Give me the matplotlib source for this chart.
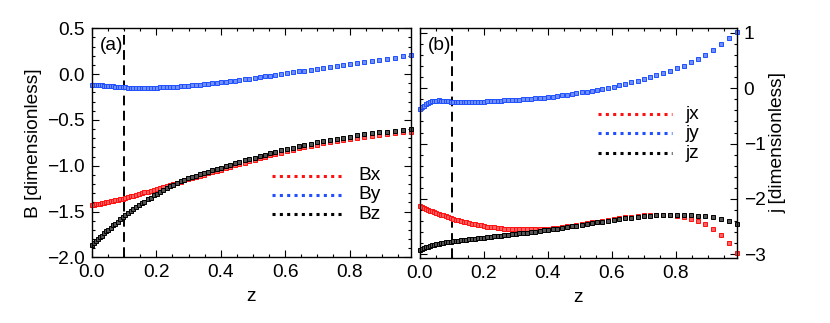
import matplotlib
matplotlib.use("Agg")
import matplotlib.pyplot as plt
from matplotlib.ticker import MultipleLocator

plt.rcParams['font.family'] = ['Liberation Sans', 'DejaVu Sans']

# height grid (stretched, denser near the base)
z = [0.000, 0.006, 0.012, 0.018, 0.025, 0.031, 0.038, 0.045, 0.051, 0.058,
     0.066, 0.073, 0.080, 0.088, 0.096, 0.104, 0.112, 0.120, 0.128, 0.137,
     0.145, 0.154, 0.163, 0.173, 0.182, 0.192, 0.201, 0.211, 0.222, 0.232,
     0.243, 0.253, 0.264, 0.276, 0.287, 0.299, 0.311, 0.323, 0.335, 0.348,
     0.361, 0.374, 0.387, 0.401, 0.415, 0.429, 0.444, 0.458, 0.474, 0.489,
     0.505, 0.521, 0.537, 0.554, 0.570, 0.588, 0.605, 0.623, 0.642, 0.660,
     0.680, 0.699, 0.719, 0.739, 0.760, 0.781, 0.802, 0.824, 0.846, 0.869,
     0.892, 0.916, 0.940, 0.965, 0.990]

Bx = [-1.430, -1.426, -1.422, -1.417, -1.413, -1.408, -1.403, -1.399, -1.394, -1.389,
      -1.382, -1.377, -1.371, -1.365, -1.358, -1.351, -1.343, -1.335, -1.327, -1.318,
      -1.310, -1.301, -1.291, -1.281, -1.271, -1.261, -1.251, -1.240, -1.229, -1.218,
      -1.206, -1.196, -1.184, -1.172, -1.160, -1.148, -1.136, -1.123, -1.111, -1.097,
      -1.084, -1.070, -1.057, -1.042, -1.027, -1.012, -0.996, -0.982, -0.966, -0.951,
      -0.935, -0.919, -0.903, -0.886, -0.872, -0.856, -0.841, -0.826, -0.811, -0.798,
      -0.783, -0.769, -0.755, -0.742, -0.729, -0.718, -0.706, -0.695, -0.684, -0.674,
      -0.664, -0.654, -0.645, -0.637, -0.629]

By = [-0.115, -0.117, -0.119, -0.120, -0.122, -0.124, -0.126, -0.128, -0.130, -0.132,
      -0.135, -0.137, -0.139, -0.141, -0.144, -0.145, -0.147, -0.148, -0.149, -0.150,
      -0.151, -0.152, -0.152, -0.151, -0.151, -0.150, -0.148, -0.146, -0.145, -0.143,
      -0.141, -0.139, -0.136, -0.133, -0.130, -0.127, -0.123, -0.119, -0.115, -0.111,
      -0.106, -0.101, -0.097, -0.092, -0.085, -0.079, -0.073, -0.066, -0.058, -0.050,
      -0.042, -0.034, -0.026, -0.018, -0.010, -0.001, 0.008, 0.018, 0.029, 0.038,
      0.049, 0.059, 0.070, 0.080, 0.091, 0.101, 0.111, 0.123, 0.136, 0.147,
      0.158, 0.169, 0.180, 0.193, 0.205]

Bz = [-1.860, -1.841, -1.822, -1.802, -1.780, -1.761, -1.738, -1.716, -1.697, -1.676,
      -1.651, -1.630, -1.609, -1.585, -1.560, -1.538, -1.517, -1.497, -1.476, -1.453,
      -1.433, -1.411, -1.390, -1.367, -1.346, -1.323, -1.303, -1.284, -1.263, -1.244,
      -1.223, -1.205, -1.189, -1.171, -1.155, -1.137, -1.122, -1.107, -1.093, -1.077,
      -1.063, -1.049, -1.034, -1.019, -1.004, -0.988, -0.972, -0.957, -0.941, -0.926,
      -0.910, -0.894, -0.878, -0.861, -0.847, -0.831, -0.816, -0.802, -0.786, -0.773,
      -0.758, -0.744, -0.730, -0.717, -0.704, -0.693, -0.681, -0.669, -0.658, -0.647,
      -0.637, -0.627, -0.618, -0.609, -0.600]

jx = [-2.130, -2.150, -2.165, -2.180, -2.195, -2.210, -2.225, -2.240, -2.255, -2.270,
      -2.285, -2.300, -2.315, -2.330, -2.345, -2.360, -2.375, -2.388, -2.400, -2.413,
      -2.425, -2.437, -2.448, -2.460, -2.470, -2.480, -2.490, -2.500, -2.508, -2.516,
      -2.523, -2.530, -2.536, -2.541, -2.545, -2.548, -2.550, -2.551, -2.551, -2.550,
      -2.548, -2.545, -2.541, -2.536, -2.530, -2.520, -2.508, -2.495, -2.482, -2.468,
      -2.455, -2.440, -2.425, -2.410, -2.395, -2.380, -2.365, -2.350, -2.335, -2.322,
      -2.310, -2.300, -2.292, -2.288, -2.288, -2.292, -2.305, -2.325, -2.355, -2.400,
      -2.455, -2.540, -2.650, -2.790, -2.970]

jy = [-0.380, -0.345, -0.315, -0.290, -0.268, -0.250, -0.236, -0.226, -0.221, -0.220,
      -0.223, -0.228, -0.233, -0.238, -0.242, -0.245, -0.248, -0.250, -0.252, -0.253,
      -0.253, -0.252, -0.250, -0.248, -0.246, -0.243, -0.240, -0.237, -0.234, -0.231,
      -0.228, -0.224, -0.220, -0.216, -0.212, -0.208, -0.204, -0.199, -0.194, -0.188,
      -0.182, -0.175, -0.167, -0.159, -0.150, -0.140, -0.129, -0.117, -0.104, -0.090,
      -0.074, -0.059, -0.044, -0.029, -0.012, 0.006, 0.028, 0.052, 0.078, 0.105,
      0.133, 0.164, 0.198, 0.234, 0.272, 0.313, 0.358, 0.410, 0.468, 0.533,
      0.607, 0.695, 0.795, 0.905, 1.020]

jz = [-2.920, -2.905, -2.890, -2.875, -2.862, -2.850, -2.838, -2.828, -2.818, -2.810,
      -2.800, -2.792, -2.785, -2.778, -2.771, -2.765, -2.759, -2.753, -2.747, -2.741,
      -2.735, -2.729, -2.723, -2.717, -2.711, -2.705, -2.699, -2.692, -2.685, -2.678,
      -2.671, -2.664, -2.657, -2.649, -2.641, -2.633, -2.625, -2.617, -2.608, -2.599,
      -2.590, -2.580, -2.570, -2.560, -2.550, -2.538, -2.525, -2.512, -2.498, -2.484,
      -2.470, -2.455, -2.440, -2.425, -2.410, -2.395, -2.380, -2.365, -2.350, -2.337,
      -2.324, -2.312, -2.302, -2.294, -2.288, -2.284, -2.283, -2.285, -2.292, -2.302,
      -2.316, -2.335, -2.360, -2.400, -2.450]

z_cut = 0.1
red, blue, black = '#ff1010', '#1f4fff', '#000000'
tints = {red: '#ff6060', blue: '#6f8fff', black: '#555555'}
FS = 13.8


def style_axes(ax):
    ax.set_xlim(0, 0.99)
    ax.xaxis.set_major_locator(MultipleLocator(0.2))
    ax.xaxis.set_minor_locator(MultipleLocator(0.05))
    ax.tick_params(which='both', direction='in', top=True, right=True,
                   labelsize=FS, pad=5, width=0.8)
    ax.tick_params(which='major', length=5)
    ax.tick_params(which='minor', length=2.5)
    for s in ax.spines.values():
        s.set_linewidth(1.0)
    ax.set_xlabel('z', fontsize=FS, labelpad=5)
    ax.axvline(z_cut, color='k', lw=1.4, ls=(0, (5, 2.8)))


def draw_series(ax, ys, cols):
    for y, c in zip(ys, cols):
        ax.plot(z, y, ls='none', marker='s', ms=2.5, mfc=tints[c], mec=c,
                mew=0.7, clip_on=False)


def key(ax, labels, cols, x0, x1, xt, ys):
    for lab, c, yy in zip(labels, cols, ys):
        ax.plot([x0, x1], [yy, yy], transform=ax.transAxes, color=c,
                lw=2.2, ls=(0, (1, 1.4)))
        ax.text(xt, yy, lab, transform=ax.transAxes, fontsize=FS,
                va='center', ha='left')


fig = plt.figure(figsize=(8.3, 3.23), dpi=100)
ax1 = fig.add_axes([0.1108, 0.2028, 0.384, 0.710])
ax2 = fig.add_axes([0.506, 0.2022, 0.3816, 0.7102])

# (a) magnetic field
style_axes(ax1)
ax1.set_ylim(-2.0, 0.5)
ax1.yaxis.set_major_locator(MultipleLocator(0.5))
ax1.yaxis.set_minor_locator(MultipleLocator(0.1))
draw_series(ax1, [Bx, By, Bz], [red, blue, black])
ax1.set_ylabel('B [dimensionless]', fontsize=FS, labelpad=4)
ax1.text(0.025, 0.925, '(a)', transform=ax1.transAxes, fontsize=FS, va='center')
key(ax1, ['Bx', 'By', 'Bz'], [red, blue, black], 0.564, 0.794, 0.835,
    [0.357, 0.273, 0.188])

# (b) current density
style_axes(ax2)
ax2.set_ylim(-3.063, 1.085)
ax2.yaxis.set_major_locator(MultipleLocator(1))
ax2.yaxis.set_minor_locator(MultipleLocator(0.2))
ax2.tick_params(axis='y', labelleft=False, labelright=True)
ax2.yaxis.set_label_position('right')
draw_series(ax2, [jx, jy, jz], [red, blue, black])
ax2.set_ylabel('j [dimensionless]', fontsize=FS, labelpad=3)
ax2.text(0.025, 0.925, '(b)', transform=ax2.transAxes, fontsize=FS, va='center')
key(ax2, ['jx', 'jy', 'jz'], [red, blue, black], 0.563, 0.795, 0.838,
    [0.625, 0.542, 0.455])

fig.savefig('out.png', dpi=100)
